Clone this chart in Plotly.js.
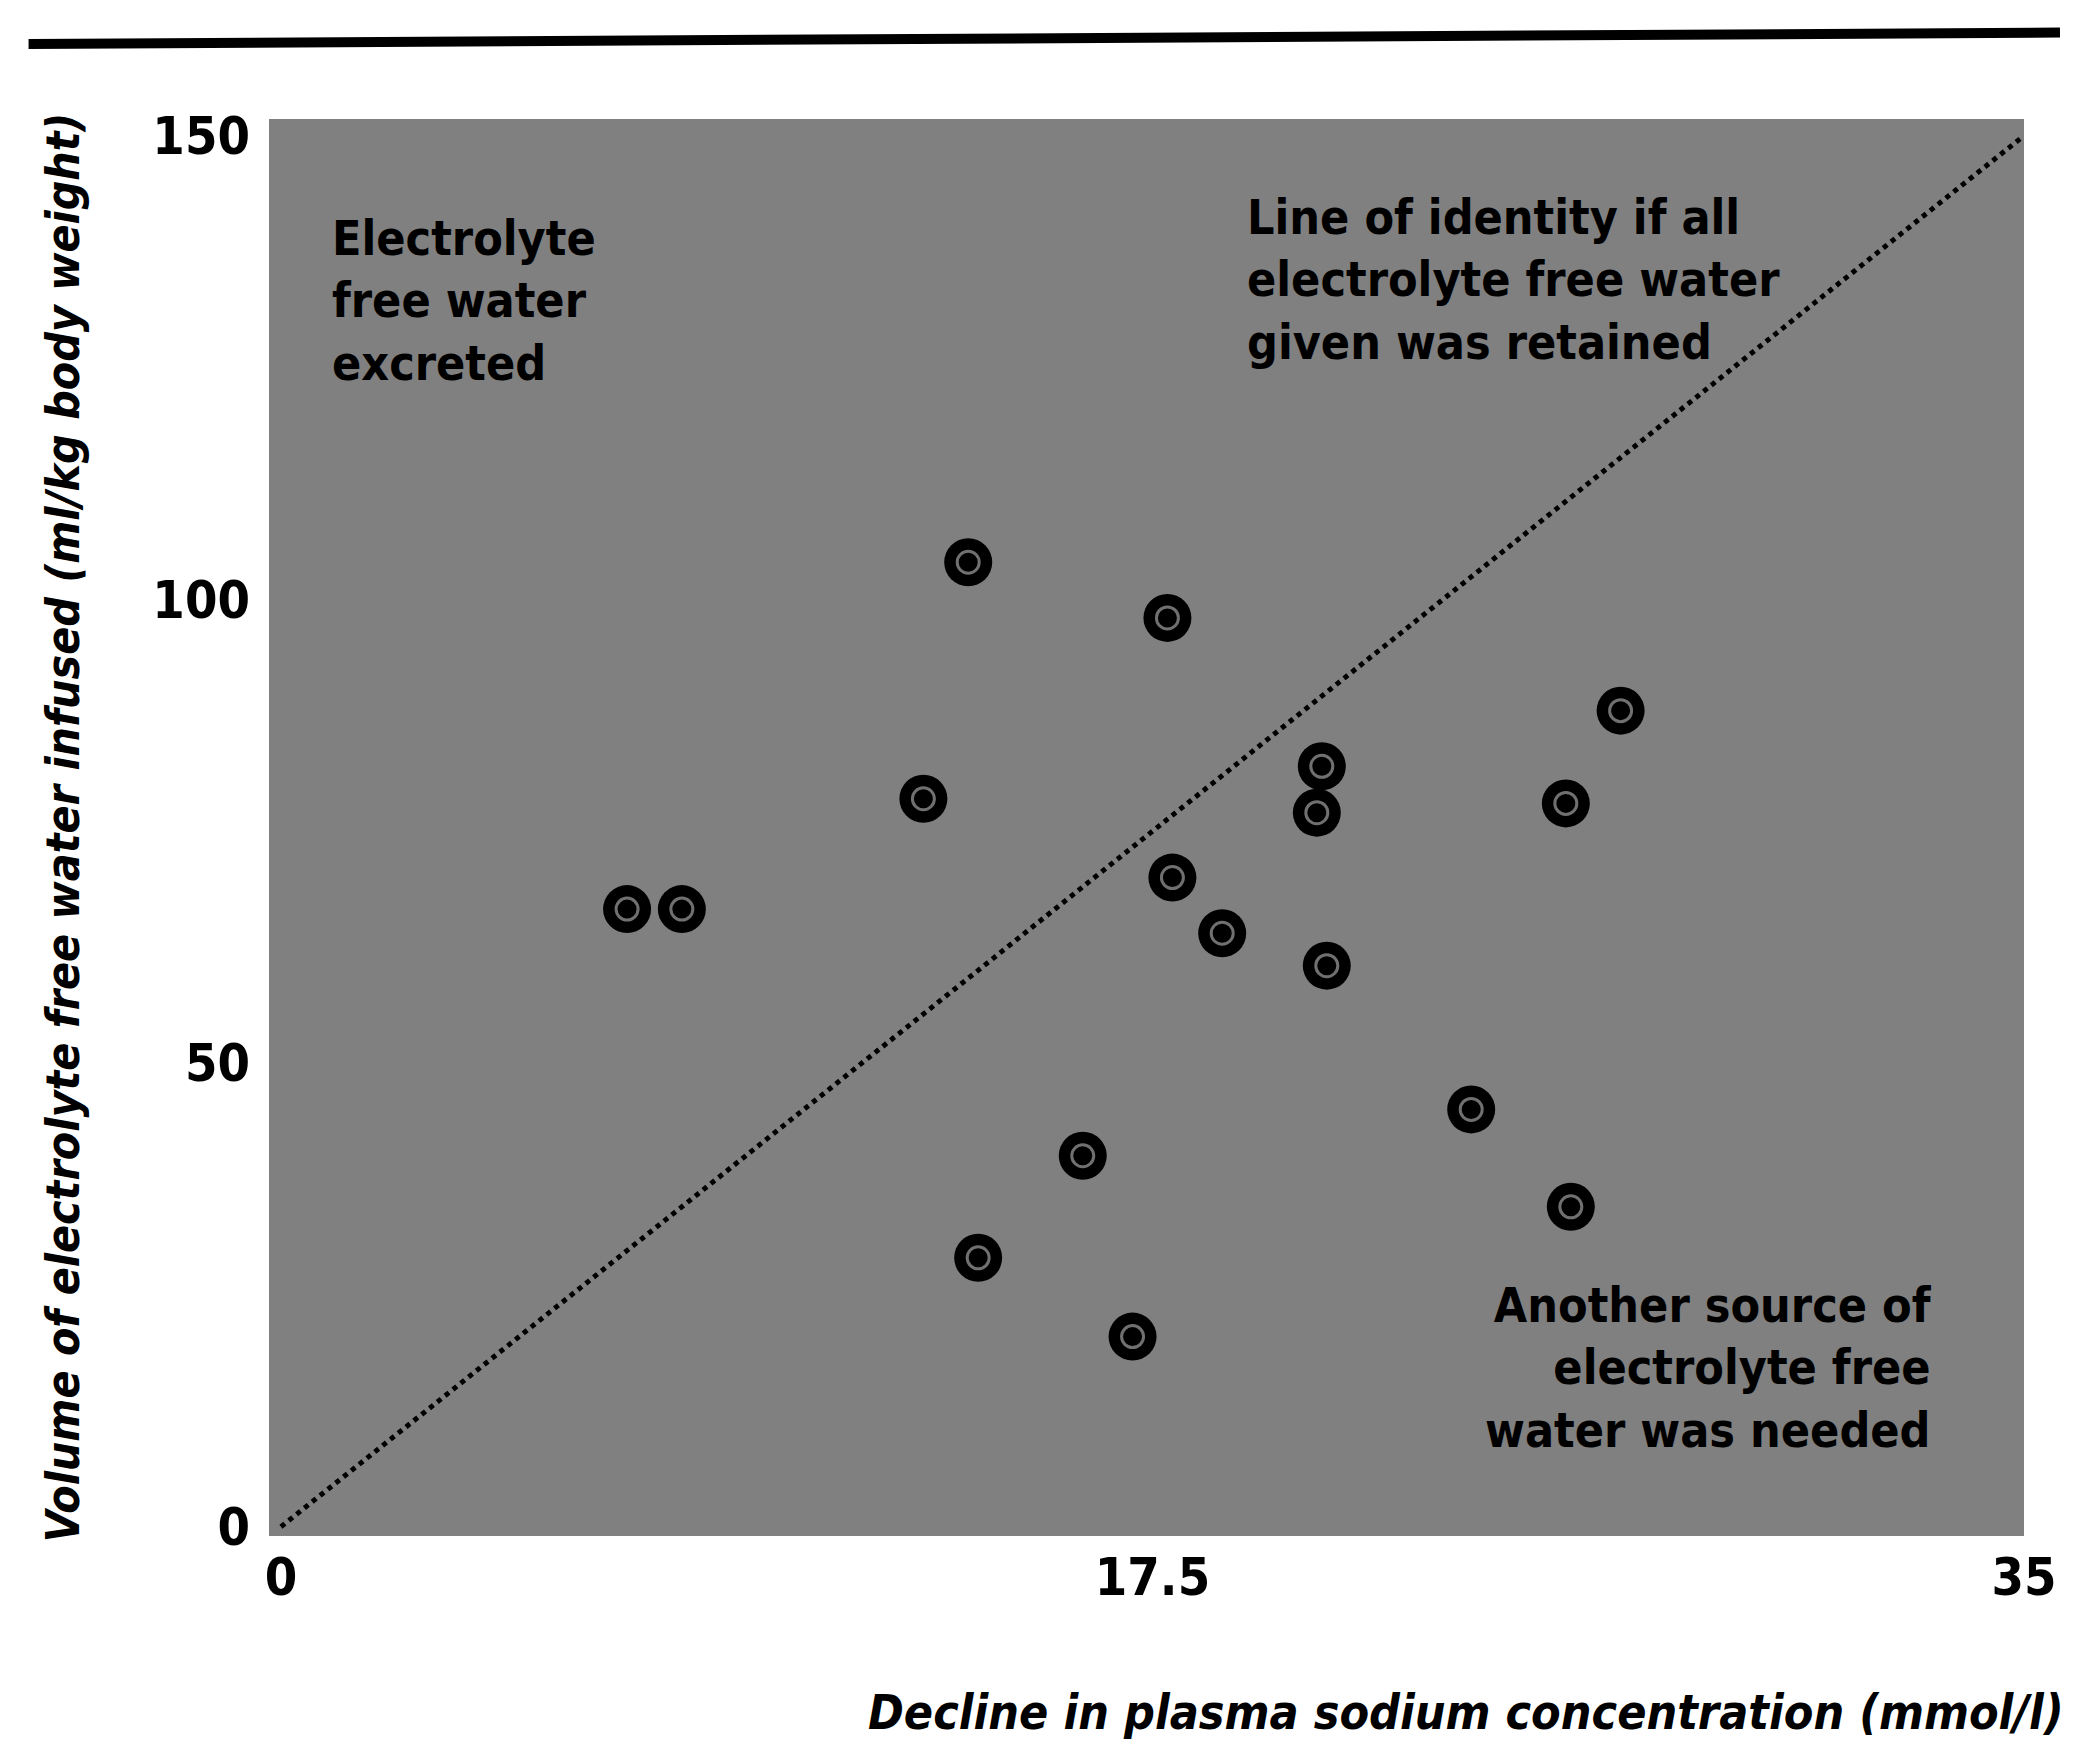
<!DOCTYPE html>
<html>
<head>
<meta charset="utf-8">
<script src="https://cdn.plot.ly/plotly-3.0.1.min.js"></script>
<style>html,body{margin:0;padding:0;background:#fff;}#chart{width:2077px;height:1750px;}</style>
</head>
<body>
<div id="chart"></div>
<script>
// Decline in plasma sodium concentration (mmol/l)
const sodiumDecline = [13.8, 17.8, 12.9, 6.95, 8.05, 17.9, 18.9, 20.9, 20.8, 21.0, 26.9, 25.8, 23.9, 25.9, 16.1, 14.0, 17.1];
// Volume of electrolyte free water infused (ml/kg body weight)
const waterInfused = [104, 98, 78.5, 66.6, 66.6, 70, 64, 82, 77, 60.5, 88, 78, 45, 34.5, 40, 29, 20.5];
// Line of identity
const identityX = [0, 35];
const identityY = [0, 150];
const xTicks = [0, 17.5, 35];
const xTickText = ['0', '17.5', '35'];
const yTicks = [0, 50, 100, 150];
const yTickText = ['0', '50', '100', '150'];

const FONT = '"Liberation Sans Narrow", "DejaVu Sans Condensed", Arial, sans-serif';

const traces = [
  {
    x: identityX, y: identityY, mode: 'lines', type: 'scatter',
    line: {color: '#000', width: 5, dash: 'dot'}, hoverinfo: 'skip', showlegend: false
  },
  {
    x: sodiumDecline, y: waterInfused, mode: 'markers', type: 'scatter',
    marker: {symbol: 'circle', size: 48, color: '#000', line: {width: 0}}, showlegend: false
  },
  {
    x: sodiumDecline, y: waterInfused, mode: 'markers', type: 'scatter',
    marker: {symbol: 'circle-open', size: 22, color: '#707070', line: {width: 3, color: '#707070'}},
    hoverinfo: 'skip', showlegend: false
  }
];

const annFont = {family: FONT, size: 48, color: '#000', weight: 'bold'};

const layout = {
  width: 2077, height: 1750,
  margin: {l: 269, r: 53, t: 119, b: 214},
  paper_bgcolor: '#fff',
  plot_bgcolor: '#808080',
  showlegend: false,
  xaxis: {
    range: [-0.24, 35], tickvals: xTicks, ticktext: xTickText,
    showgrid: false, zeroline: false, showline: false, ticks: '',
    ticklabelstandoff: 6,
    tickfont: {family: FONT, size: 52, color: '#000', weight: 'bold'}
  },
  yaxis: {
    range: [-1, 151.8], tickvals: yTicks, ticktext: yTickText,
    showgrid: false, zeroline: false, showline: false, ticks: '',
    ticklabelstandoff: 18,
    tickfont: {family: FONT, size: 52, color: '#000', weight: 'bold'},
    title: {
      text: 'Volume of electrolyte free water infused (ml/kg body weight)',
      font: {family: FONT, size: 46, color: '#000', weight: 'bold', style: 'italic'},
      standoff: 58
    }
  },
  annotations: [
    {
      xref: 'paper', yref: 'paper', x: 1.0239, y: -0.124, xanchor: 'right', yanchor: 'middle',
      text: 'Decline in plasma sodium concentration (mmol/l)', showarrow: false,
      font: {family: FONT, size: 48, color: '#000', weight: 'bold', style: 'italic'}
    },
    {
      xref: 'paper', yref: 'paper', x: 0.035, y: 0.937, xanchor: 'left', yanchor: 'top', align: 'left',
      text: 'Electrolyte<br>free water<br>excreted', showarrow: false, font: annFont
    },
    {
      xref: 'paper', yref: 'paper', x: 0.556, y: 0.952, xanchor: 'left', yanchor: 'top', align: 'left',
      text: 'Line of identity if all<br>electrolyte free water<br>given was retained', showarrow: false, font: annFont
    },
    {
      xref: 'paper', yref: 'paper', x: 0.9487, y: 0.184, xanchor: 'right', yanchor: 'top', align: 'right',
      text: 'Another source of<br>electrolyte free<br>water was needed', showarrow: false, font: annFont
    }
  ],
  shapes: [
    {type: 'line', xref: 'paper', yref: 'paper', x0: -0.137, y0: 1.053, x1: 1.0205, y1: 1.061,
     line: {color: '#000', width: 10}}
  ]
};

Plotly.newPlot('chart', traces, layout, {displayModeBar: false, staticPlot: true});
</script>
</body>
</html>
